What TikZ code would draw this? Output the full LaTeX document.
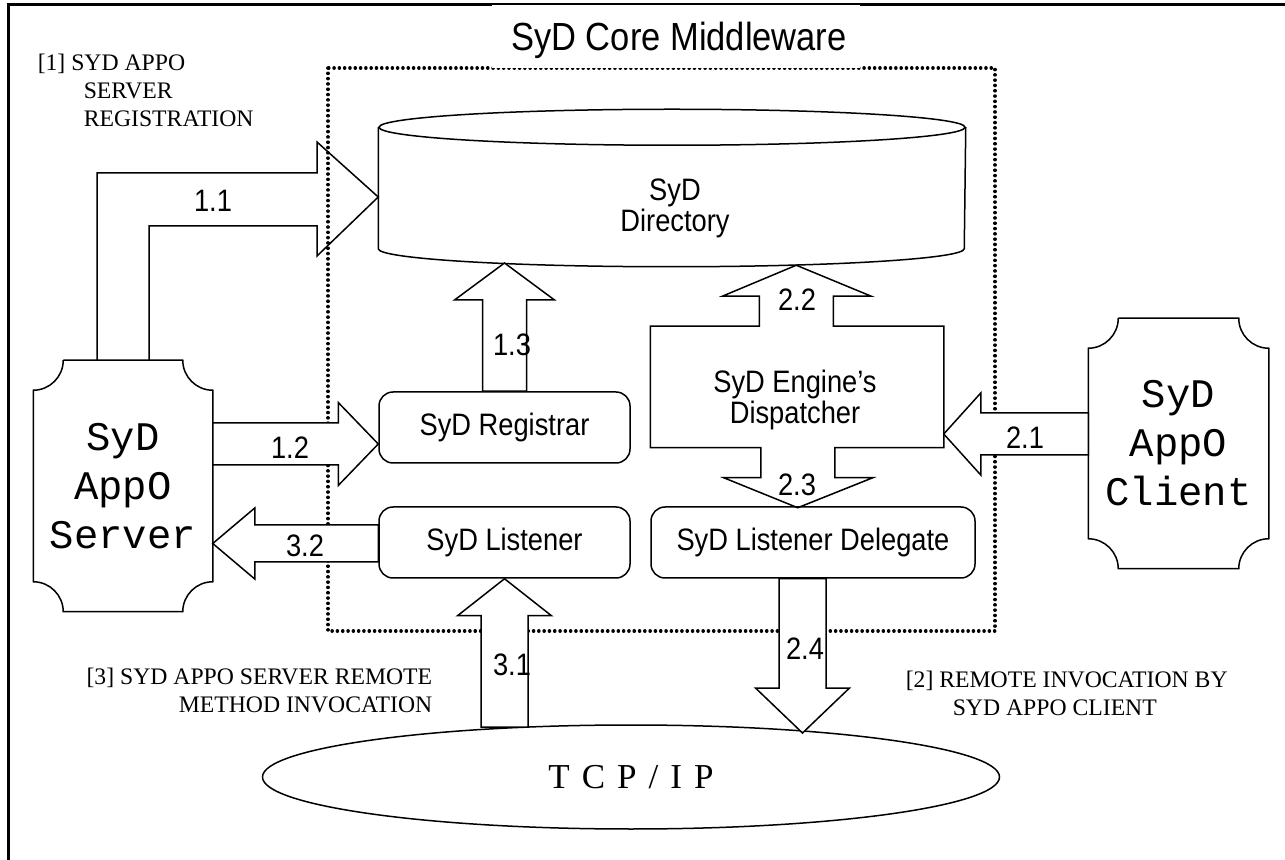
\documentclass[tikz,border=0pt]{standalone}
\usepackage{fontspec}
\setmainfont{Liberation Serif}
\newfontfamily\lblfont[FakeStretch=0.88]{Liberation Sans}
\newfontfamily\appofont{Liberation Mono}
\usetikzlibrary{calc,shapes.geometric}

\newcommand{\plaque}[1]{%
  \draw ($(#1.north west)+(30,0)$) -- ($(#1.north east)+(-30,0)$)
    .. controls +(0,16.5) and +(-16.5,0) .. ($(#1.north east)+(0,30)$)
    -- ($(#1.south east)+(0,-30)$)
    .. controls +(-16.5,0) and +(0,-16.5) .. ($(#1.south east)+(-30,0)$)
    -- ($(#1.south west)+(30,0)$)
    .. controls +(0,-16.5) and +(16.5,0) .. ($(#1.south west)+(0,-30)$)
    -- ($(#1.north west)+(0,30)$)
    .. controls +(16.5,0) and +(0,16.5) .. ($(#1.north west)+(30,0)$);}
\newcommand{\hblock}[5]{%
  \draw[blk] ($(#1)+(0,#3)$) -- ($(#2)-(#5,-#3)$) -- ($(#2)-(#5,-#4)$) -- (#2)
    -- ($(#2)-(#5,#4)$) -- ($(#2)-(#5,#3)$) -- ($(#1)-(0,#3)$) -- cycle;}
\newcommand{\vblock}[5]{%
  \draw[blk] ($(#1)+(#3,0)$) -- ($(#2)-(-#3,#5)$) -- ($(#2)-(-#4,#5)$) -- (#2)
    -- ($(#2)-(#4,#5)$) -- ($(#2)-(#3,#5)$) -- ($(#1)-(#3,0)$) -- cycle;}

\begin{document}
\begin{tikzpicture}[x=0.5pt,y=-0.5pt,line width=0.75pt,
    lbl/.style={font=\lblfont\fontsize{15.5}{14}\selectfont},
    note/.style={font=\fontsize{11.85}{14}\selectfont,inner sep=0pt},
    appo/.style={font=\appofont\fontsize{20.3}{24.5}\selectfont,align=center,inner sep=0pt},
    rbox/.style={lbl,draw,rounded corners=7pt,minimum height=35.5pt,inner sep=0pt},
    blk/.style={draw,fill=white},
    corewall/.style={line width=1.75pt,line cap=round,dash pattern=on 0.05pt off 2.6pt}]
    \useasboundingbox (0,0) rectangle (1285,860);

    \draw[line width=1.5pt] (8,860) -- (8,5) -- (1285,5);
    \draw[corewall] (328,68) rectangle (995,631);
    \fill[white] (492,5) rectangle (860,68);
    \node[font=\lblfont\fontsize{19.6}{22}\selectfont] (title) at (679,40) {SyD Core Middleware};

    \node[appo,minimum width=89pt,minimum height=125pt] (srv) at (123,486) {SyD\\AppO\\Server};
    \node[appo,minimum width=89.5pt,minimum height=124.5pt] (cli) at (1178.5,443.5) {SyD\\AppO\\Client};
    \node[minimum width=293pt,minimum height=60pt,inner sep=0pt] (dir) at (672,188) {};
    \node[lbl,align=center] (dirtxt) at (675,208) {SyD\\Directory};
    \node[rbox,minimum width=125.5pt] (reg) at (504.5,427.5) {SyD Registrar};
    \node[rbox,minimum width=125.5pt] (lst) at (504.5,542.5) {SyD Listener};
    \node[rbox,minimum width=162pt] (dlg) at (813,542.5) {SyD Listener Delegate};
    \node[minimum width=146pt,minimum height=60pt,inner sep=0pt] (disp) at (797,387) {};
    \node[lbl,align=center] (disptxt) at (795,400) {SyD Engine’s\\Dispatcher};
    \node[draw,ellipse,minimum width=368.5pt,minimum height=52pt,inner sep=0pt,font=\fontsize{17.5}{20}\selectfont] (tcp) at (631,777) {T\hspace{6pt}C\hspace{6pt}P\hspace{6pt}/\hspace{6pt}I\hspace{6pt}P};

    \plaque{srv}
    \plaque{cli}
    \draw (dir.north west) -- (dir.south west) arc[start angle=180,end angle=0,x radius=293,y radius=18] -- (dir.north east);
    \draw (dir.north) ellipse[x radius=293,y radius=18];
    \draw (disp.north west) -- ++(109,0) -- ++(0,-30) -- ++(-37,0) -- ++(74,-31) -- ++(75,31) -- ++(-38,0) -- ++(0,30)
        -- (disp.north east) -- (disp.south east) -- ++(-109,0) -- ++(0,30) -- ++(38,0) -- ++(-75,30) -- ++(-74,-30)
        -- ++(37,0) -- ++(0,-30) -- (disp.south west) -- cycle;

    \draw (srv.north -| 97,0) |- (317,173) -- (317,142) -- (dir.west |- 0,197) -- (317,256) -- (317,226) -| (srv.north -| 149,0);
    \coordinate (a12) at (srv.east |- 0,444);
    \coordinate (b12) at (reg.west |- 0,444);
    \hblock{a12}{b12}{21}{41.5}{40}
    \coordinate (a32) at (lst.west |- 0,543.5);
    \coordinate (b32) at (srv.east |- 0,543.5);
    \hblock{a32}{b32}{18.5}{35.5}{-42}
    \coordinate (a21) at (cli.west |- 0,434);
    \coordinate (b21) at (disp.east |- 0,434);
    \hblock{a21}{b21}{21}{41}{-37}
    \coordinate (b13) at (reg.north |- 0,263);
    \vblock{reg.north}{b13}{22}{50}{-37}
    \coordinate (a31) at (lst.south |- 0,727);
    \vblock{a31}{lst.south}{23.5}{47}{-37}
    \coordinate (a24) at (dlg.south -| 802.5,0);
    \coordinate (b24) at (a24 |- 0,733);
    \vblock{a24}{b24}{23.5}{47}{45}

    \node[lbl] (l11) at (213,201) {1.1};
    \node[lbl] (l12) at (290,448) {1.2};
    \node[lbl] (l13) at (512,345) {1.3};
    \node[lbl] (l21) at (1025,438) {2.1};
    \node[lbl] (l22) at (797,300) {2.2};
    \node[lbl] (l23) at (797,485) {2.3};
    \node[lbl] (l24) at (805,649) {2.4};
    \node[lbl] (l31) at (512,665) {3.1};
    \node[lbl] (l32) at (305,546) {3.2};

    \node[note,align=left,anchor=west] (n1) at (37,90) {[1] SYD APPO\\\hspace*{23pt}SERVER\\\hspace*{23pt}REGISTRATION};
    \node[note,align=left,anchor=west] (n2) at (905,693) {[2] REMOTE INVOCATION BY\\\hspace*{23.5pt}SYD APPO CLIENT};
    \node[note,align=right,anchor=east] (n3) at (433,690) {[3] SYD APPO SERVER REMOTE\\METHOD INVOCATION};
\end{tikzpicture}
\end{document}
